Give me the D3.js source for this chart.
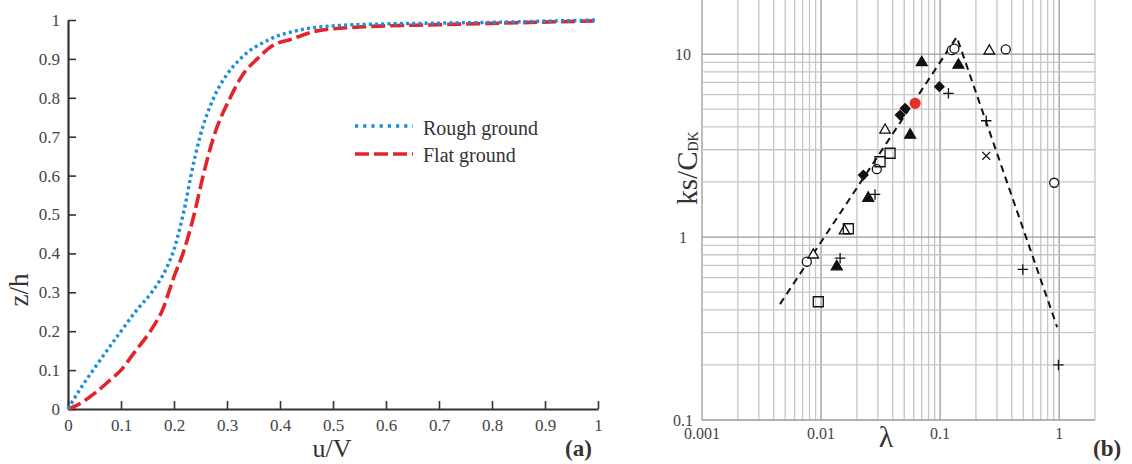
<!DOCTYPE html>
<html>
<head>
<meta charset="utf-8">
<script src="https://cdn.jsdelivr.net/npm/d3@7"></script>
<style>
  body { margin: 0; background: #fff; }
  text { font-family: "Liberation Serif", "Times New Roman", serif; }
</style>
</head>
<body>
<svg id="chart"></svg>
<script>
// ---- panel (a): velocity profiles ----
const roughU = [0, 0.02, 0.05, 0.1, 0.13, 0.158, 0.185, 0.2, 0.212, 0.222, 0.232, 0.249, 0.275, 0.3, 0.325, 0.38, 0.44, 0.5, 0.6, 0.7, 0.8, 0.9, 1.0];
const roughZ = [0, 0.045, 0.105, 0.2, 0.255, 0.3, 0.36, 0.41, 0.47, 0.53, 0.6, 0.7, 0.8, 0.86, 0.9, 0.95, 0.975, 0.985, 0.99, 0.992, 0.994, 0.997, 1.0];
const flatU = [0, 0.02, 0.05, 0.08, 0.1, 0.125, 0.16, 0.18, 0.19, 0.2, 0.217, 0.238, 0.255, 0.275, 0.306, 0.33, 0.357, 0.387, 0.42, 0.47, 0.55, 0.7, 0.85, 1.0];
const flatZ = [0, 0.012, 0.04, 0.075, 0.1, 0.145, 0.21, 0.26, 0.3, 0.34, 0.4, 0.5, 0.6, 0.7, 0.8, 0.86, 0.9, 0.935, 0.95, 0.972, 0.982, 0.988, 0.993, 0.998];
const uTicks = [0, 0.1, 0.2, 0.3, 0.4, 0.5, 0.6, 0.7, 0.8, 0.9, 1];
const zTicks = [0, 0.1, 0.2, 0.3, 0.4, 0.5, 0.6, 0.7, 0.8, 0.9, 1];
const legendNames = ["Rough ground", "Flat ground"];

// ---- panel (b): ks/C_DK against lambda ----
const openCircles   = [[0.00759, 0.733], [0.0294, 2.35], [0.1253, 10.5], [0.1318, 10.7], [0.356, 10.6], [0.908, 1.98]];
const openTriangles = [[0.00861, 0.798], [0.01574, 1.08], [0.0345, 3.84], [0.259, 10.4]];
const openSquares   = [[0.00948, 0.443], [0.01694, 1.11], [0.0313, 2.58], [0.038, 2.87]];
const fillTriangles = [[0.01355, 0.689], [0.0249, 1.63], [0.056, 3.61], [0.0701, 8.99], [0.1426, 8.71]];
const fillDiamonds  = [[0.02264, 2.18], [0.0461, 4.64], [0.0508, 5.05], [0.0986, 6.63]];
const plusPoints    = [[0.01446, 0.766], [0.0284, 1.71], [0.1175, 6.1], [0.244, 4.32], [0.495, 0.665], [0.986, 0.2]];
const timesPoints   = [[0.244, 2.78]];
const redPoints     = [[0.0617, 5.38]];
const trendLine     = [[0.00452, 0.43], [0.138, 12.4], [0.962, 0.322]];
const lamTicks = [0.001, 0.01, 0.1, 1];
const ksTicks = [0.1, 1, 10];

const W = 1132, H = 464;
const svg = d3.select("#chart").attr("width", W).attr("height", H);

// ===== panel (a) =====
const xa = d3.scaleLinear().domain([0, 1]).range([68, 598]);
const ya = d3.scaleLinear().domain([0, 1]).range([409, 20]);

const axB = svg.append("g").attr("transform", "translate(0,409)")
    .call(d3.axisBottom(xa).tickValues(uTicks).tickSizeInner(-8).tickSizeOuter(0)
        .tickPadding(10).tickFormat(d3.format("~g")));
const axL = svg.append("g").attr("transform", "translate(68,0)")
    .call(d3.axisLeft(ya).tickValues(zTicks).tickSizeInner(-8).tickSizeOuter(0)
        .tickPadding(8).tickFormat(d3.format("~g")));
[axB, axL].forEach(g => {
    g.select(".domain").attr("stroke", "#333").attr("stroke-width", 2.2);
    g.selectAll(".tick line").attr("stroke", "#333").attr("stroke-width", 1.6);
    g.selectAll(".tick text").attr("fill", "#444").style("font-size", "17px")
        .style("font-family", "'Liberation Serif', serif");
});

const lineA = d3.line().x(d => xa(d[0])).y(d => ya(d[1])).curve(d3.curveMonotoneX);
const roughData = roughU.map((u, i) => [u, roughZ[i]]);
const flatData = flatU.map((u, i) => [u, flatZ[i]]);

svg.append("path").datum(flatData).attr("d", lineA)
    .attr("fill", "none").attr("stroke", "#e3242b").attr("stroke-width", 3.6)
    .attr("stroke-dasharray", "14,5");
svg.append("path").datum(roughData).attr("d", lineA)
    .attr("fill", "none").attr("stroke", "#1a8ed6").attr("stroke-width", 3.4)
    .attr("stroke-dasharray", "3,3.2");

// legend
const leg = svg.append("g");
leg.append("line").attr("x1", 355).attr("x2", 413).attr("y1", 126).attr("y2", 126)
    .attr("stroke", "#1a8ed6").attr("stroke-width", 3.6).attr("stroke-dasharray", "3.2,5");
leg.append("line").attr("x1", 355).attr("x2", 413).attr("y1", 154).attr("y2", 154)
    .attr("stroke", "#e3242b").attr("stroke-width", 3.6).attr("stroke-dasharray", "14,5");
leg.selectAll("text").data(legendNames).enter().append("text")
    .attr("x", 423).attr("y", (d, i) => 135 + i * 27)
    .attr("fill", "#333").style("font-size", "20px").text(d => d);

svg.append("text").attr("x", 332).attr("y", 457).attr("text-anchor", "middle")
    .attr("fill", "#333").style("font-size", "26px").text("u/V");
svg.append("text").attr("transform", "translate(28,290) rotate(-90)").attr("text-anchor", "middle")
    .attr("fill", "#333").style("font-size", "27px").text("z/h");
svg.append("text").attr("x", 565).attr("y", 456).attr("fill", "#333")
    .style("font-size", "23px").style("font-weight", "bold").text("(a)");

// ===== panel (b) =====
const xb = d3.scaleLog().domain([0.001, 2]).range([702, 1095]);
const yb = d3.scaleLog().domain([0.1, 20]).range([420, -1]);

const vGrid = [];
[0.001, 0.01, 0.1].forEach(p => { for (let n = 1; n <= 9; n++) vGrid.push(+(n * p).toPrecision(3)); });
vGrid.push(1, 2);
const hGrid = [];
[0.1, 1].forEach(p => { for (let n = 1; n <= 9; n++) hGrid.push(+(n * p).toPrecision(3)); });
hGrid.push(10, 20);
const isMajor = v => Math.abs(Math.log10(v) - Math.round(Math.log10(v))) < 1e-6;

const grid = svg.append("g");
grid.selectAll(".v").data(vGrid).enter().append("line")
    .attr("x1", d => xb(d)).attr("x2", d => xb(d)).attr("y1", 0).attr("y2", 420)
    .attr("stroke", d => isMajor(d) ? "#9a9a9a" : "#c6c6c6").attr("stroke-width", 1.3);
grid.selectAll(".h").data(hGrid).enter().append("line")
    .attr("x1", 702).attr("x2", 1095).attr("y1", d => yb(d)).attr("y2", d => yb(d))
    .attr("stroke", d => isMajor(d) ? "#9a9a9a" : "#c6c6c6").attr("stroke-width", 1.3);

svg.append("g").selectAll("text").data(lamTicks).enter().append("text")
    .attr("x", d => xb(d)).attr("y", 439).attr("text-anchor", "middle")
    .attr("fill", "#444").style("font-size", "16px").text(d => d3.format("~g")(d));
svg.append("g").selectAll("text").data(ksTicks).enter().append("text")
    .attr("x", 683).attr("y", d => yb(d)).attr("dy", "0.35em").attr("text-anchor", "middle")
    .attr("fill", "#444").style("font-size", "16px").text(d => d3.format("~g")(d));

// trend line
svg.append("path").datum(trendLine)
    .attr("d", d3.line().x(d => xb(d[0])).y(d => yb(d[1])))
    .attr("fill", "none").attr("stroke", "#111").attr("stroke-width", 2)
    .attr("stroke-dasharray", "7,5");

// markers
const plusType = { draw(ctx, size) { const r = Math.sqrt(size) / 2;
    ctx.moveTo(-r, 0); ctx.lineTo(r, 0); ctx.moveTo(0, -r); ctx.lineTo(0, r); } };
const timesType = { draw(ctx, size) { const r = Math.sqrt(size) / 2 * 0.75;
    ctx.moveTo(-r, -r); ctx.lineTo(r, r); ctx.moveTo(-r, r); ctx.lineTo(r, -r); } };

const markerSets = [
    { data: openCircles, type: d3.symbolCircle, size: 64, fill: "#fff", stroke: "#111", rot: 0 },
    { data: openTriangles, type: d3.symbolTriangle, size: 48, fill: "#fff", stroke: "#111", rot: 0 },
    { data: openSquares, type: d3.symbolSquare, size: 100, fill: "none", stroke: "#111", rot: 0 },
    { data: fillTriangles, type: d3.symbolTriangle, size: 52, fill: "#111", stroke: "#111", rot: 0 },
    { data: fillDiamonds, type: d3.symbolSquare, size: 44, fill: "#111", stroke: "#111", rot: 45 },
    { data: plusPoints, type: plusType, size: 110, fill: "none", stroke: "#111", rot: 0 },
    { data: timesPoints, type: timesType, size: 110, fill: "none", stroke: "#111", rot: 0 },
    { data: redPoints, type: d3.symbolCircle, size: 100, fill: "#e8302a", stroke: "none", rot: 0 }
];
markerSets.forEach(s => {
    svg.append("g").selectAll("path").data(s.data).enter().append("path")
        .attr("d", d3.symbol().type(s.type).size(s.size))
        .attr("transform", d => `translate(${xb(d[0])},${yb(d[1])}) rotate(${s.rot})`)
        .attr("fill", s.fill).attr("stroke", s.stroke).attr("stroke-width", 1.3);
});

// axis titles
const kt = svg.append("text").attr("transform", "translate(697,168) rotate(-90)")
    .attr("text-anchor", "middle").attr("fill", "#333").style("font-size", "29px");
kt.append("tspan").text("ks/C");
kt.append("tspan").attr("dy", "0.05em").style("font-size", "14px").text("DK");
svg.append("text").attr("x", 886).attr("y", 447).attr("text-anchor", "middle")
    .attr("fill", "#333").style("font-size", "30px").text("λ");
svg.append("text").attr("x", 1093).attr("y", 456).attr("fill", "#333")
    .style("font-size", "23px").style("font-weight", "bold").text("(b)");
</script>
</body>
</html>
